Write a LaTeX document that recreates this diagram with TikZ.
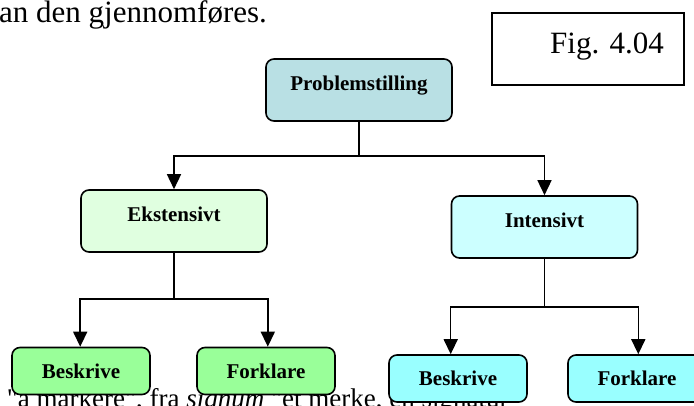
\documentclass[tikz,border=0pt]{standalone}
\usepackage{fontspec}
\setmainfont{Liberation Serif}
\usetikzlibrary{arrows.meta}
\definecolor{problemfarge}{RGB}{185,224,228}
\definecolor{ekstfarge}{RGB}{224,255,224}
\definecolor{intfarge}{RGB}{204,255,255}
\definecolor{gronn}{RGB}{153,255,153}
\definecolor{turkis}{RGB}{153,255,255}

\begin{document}
\begin{tikzpicture}[x=1pt,y=-1pt,>={Triangle[width=14pt,length=15pt]},
  boks/.style={draw,rounded corners=8pt,line width=1.6pt,font=\fontsize{21}{24}\selectfont\bfseries},
  toppboks/.style={boks,minimum width=186pt,minimum height=62pt,text height=14pt,text depth=14pt},
  bunnboks/.style={boks,minimum width=138pt,minimum height=47pt},
  linje/.style={line width=1.5pt}]
\useasboundingbox (0,0) rectangle (694,405);
\clip (0,0) rectangle (694,405);

\node[anchor=base west,font=\fontsize{31}{36}\selectfont,inner sep=0] (tekst) at (-1,22) {an den gjennomføres.};
\node[anchor=base west,font=\fontsize{27}{32}\selectfont,inner sep=0] (sitat) at (-12,407) {e \textquotedbl å markere\textquotedbl, fra \textit{signum} \textquotedbl et merke, en signatur”};

\node[draw,line width=1.5pt,minimum width=192pt,minimum height=72pt] (figboks) at (588,49) {};
\node[anchor=base west,font=\fontsize{31}{36}\selectfont,inner sep=0] (fignr) at (550,53) {Fig. 4.04};



\node[toppboks,fill=problemfarge] (problem) at (359,90) {Problemstilling};

\node[toppboks,fill=ekstfarge] (ekst) at (174,221) {Ekstensivt};
\node[toppboks,fill=intfarge] (int) at (544.5,227) {Intensivt};

\node[bunnboks,fill=gronn] (beskrive1) at (81,371) {Beskrive};
\node[bunnboks,fill=gronn] (forklare1) at (266,371) {Forklare};

\node[bunnboks,fill=turkis] (beskrive2) at (458,378.5) {Beskrive};
\node[bunnboks,fill=turkis] (forklare2) at (637,378.5) {Forklare};



\coordinate (gren1) at (problem.south |- 0,156);
\coordinate (gren2) at (ekst.south |- 0,299);
\coordinate (gren3) at (int.south |- 0,307);

\draw[linje] (problem.south) -- (gren1);
\draw[linje,->] (gren1) -| (ekst.north);
\draw[linje,->] (gren1) -| (int.north);

\draw[linje] (ekst.south) -- (gren2);
\draw[linje,->] (gren2) -| (beskrive1.north -| ekst.west);
\draw[linje,->] (gren2) -| (forklare1.north -| ekst.east);

\draw[linje] (int.south) -- (gren3);
\draw[linje,->] (gren3) -| (beskrive2.north -| int.west);
\draw[linje,->] (gren3) -| (forklare2.north -| int.east);

\end{tikzpicture}
\end{document}
